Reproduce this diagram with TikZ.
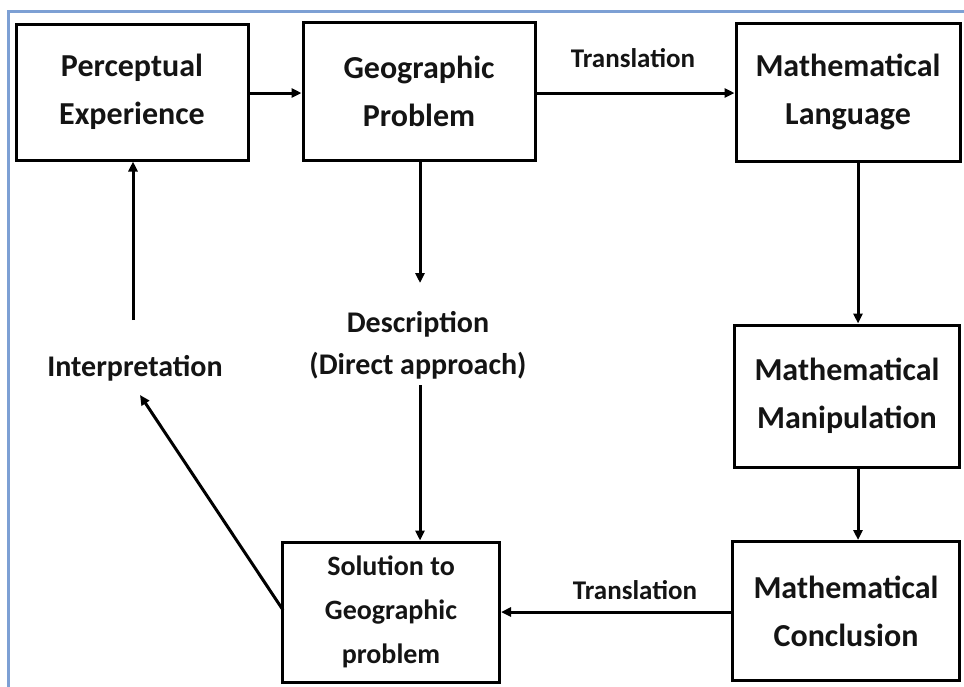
\documentclass[tikz,border=0pt]{standalone}
\usepackage{fontspec}
\setmainfont{Carlito}
\usetikzlibrary{arrows.meta}
\begin{document}
\begin{tikzpicture}[x=1pt,y=-1pt,
  box/.style={draw=black,line width=3pt,align=center,inner sep=0pt,
    font=\fontsize{32}{48}\selectfont\bfseries,text=black!92},
  lbl/.style={align=center,inner sep=0pt,text=black!92},
  conn/.style={line width=3pt,-{Triangle[length=10pt,width=9pt]}}]
\useasboundingbox (0,0) rectangle (964,686);
\fill[white] (0,0) rectangle (964,686);
\draw[line width=3pt,color={rgb,255:red,125;green,160;blue,212}] (8,690) -- (8,11) -- (970,11);
% boxes
\node[box,minimum width=232pt,minimum height=136pt] (pe) at (132,92) {Perceptual\\Experience};
\node[box,minimum width=232pt,minimum height=138pt] (gp) at (419,91) {Geographic\\Problem};
\node[box,minimum width=224pt,minimum height=138pt] (ml) at (848,92) {Mathematical\\Language};
\node[box,minimum width=225pt,minimum height=142pt] (mm) at (847,396) {Mathematical\\Manipulation};
\node[box,minimum width=227pt,minimum height=139pt] (mc) at (846,611) {Mathematical\\Conclusion};
\node[box,minimum width=217pt,minimum height=140pt,font=\fontsize{28}{44}\selectfont\bfseries] (sg) at (391,612) {Solution to\\Geographic\\problem};
% labels
\node[lbl,font=\fontsize{27}{30}\selectfont\bfseries] (t1) at (633,58) {Translation};
\node[lbl,font=\fontsize{27}{30}\selectfont\bfseries] (t2) at (635,590) {Translation};
\node[lbl,font=\fontsize{30}{42}\selectfont\bfseries] (desc) at (418,345) {Description\\(Direct approach)};
\node[lbl,font=\fontsize{30}{32}\selectfont\bfseries] (interp) at (135,368) {Interpretation};
% helper coordinates
\coordinate (dtop) at (420,283);
\coordinate (dbot) at (420,385);
\coordinate (itop) at (133,320);
\coordinate (itip) at (140,395);
\coordinate (sgl) at (283,610);
% connectors
\draw[conn] (pe.east |- 0,93) -- (gp.west |- 0,93);
\draw[conn] (gp.east |- 0,93) -- (ml.west |- 0,93);
\draw[conn] (gp.south -| dtop) -- (dtop);
\draw[conn] (dbot) -- (sg.north -| dbot);
\draw[conn] (ml.south -| 858,0) -- (mm.north -| 858,0);
\draw[conn] (mm.south -| 858,0) -- (mc.north -| 858,0);
\draw[conn] (mc.west |- 0,612) -- (sg.east |- 0,612);
\draw[conn] (sgl) -- (itip);
\draw[conn] (itop) -- (pe.south -| itop);
\end{tikzpicture}
\end{document}
